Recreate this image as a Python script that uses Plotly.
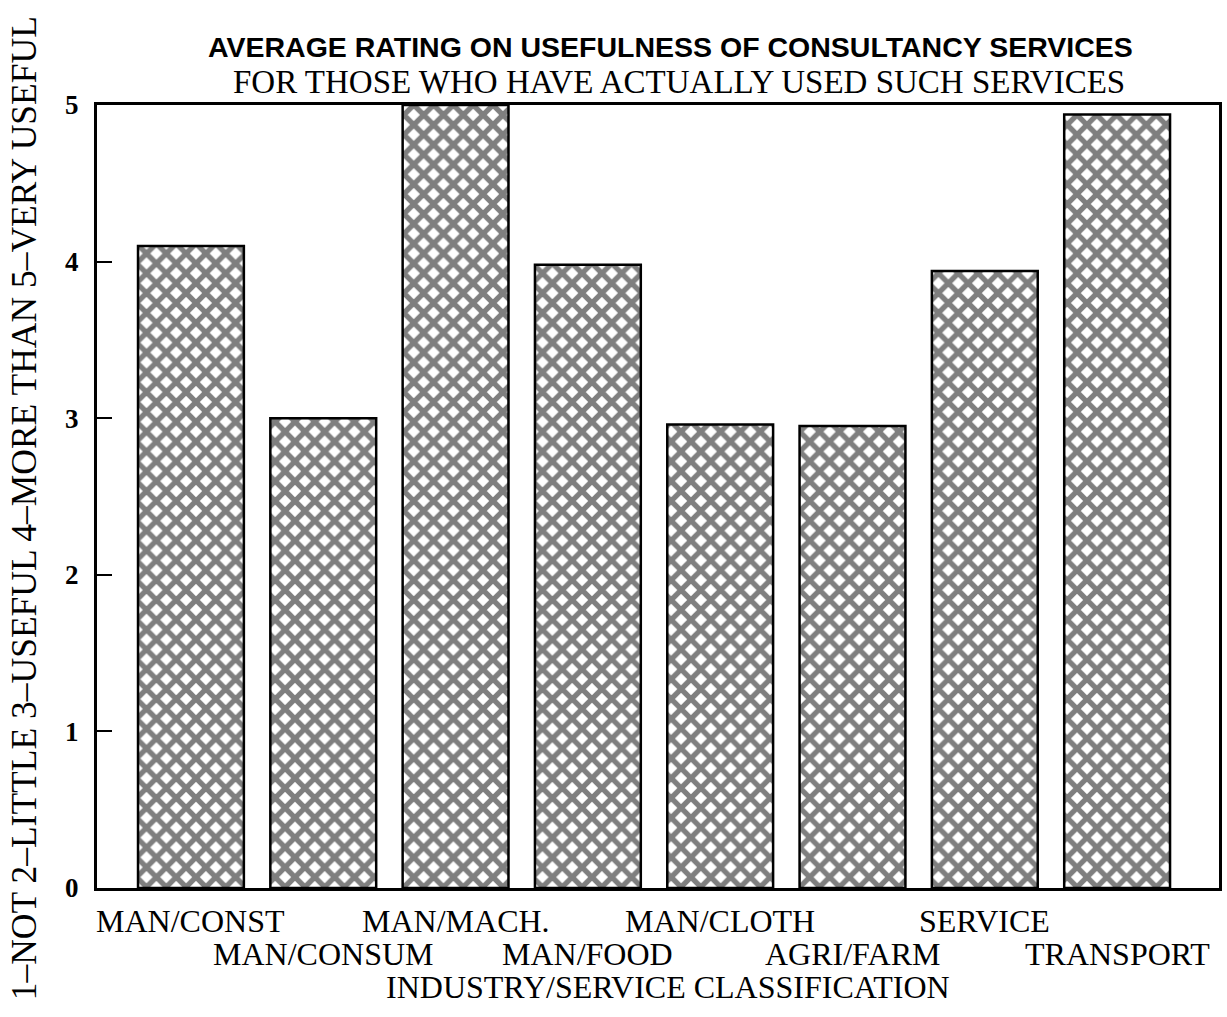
import plotly.graph_objects as go

categories = ["MAN/CONST", "MAN/CONSUM", "MAN/MACH.", "MAN/FOOD",
              "MAN/CLOTH", "AGRI/FARM", "SERVICE", "TRANSPORT"]
ratings = [4.1, 3.0, 5.0, 3.98, 2.96, 2.95, 3.94, 4.94]
y_ticks = [0, 1, 2, 3, 4, 5]

title_line1 = "AVERAGE RATING ON USEFULNESS OF CONSULTANCY SERVICES"
title_line2 = "FOR THOSE WHO HAVE ACTUALLY USED SUCH SERVICES"
x_title = "INDUSTRY/SERVICE CLASSIFICATION"
y_title = "1\u2013NOT 2\u2013LITTLE 3\u2013USEFUL 4\u2013MORE THAN 5\u2013VERY USEFUL"

SERIF = "Liberation Serif, Times New Roman, serif"
SANS = "Liberation Sans, Arial, sans-serif"

idx = list(range(len(categories)))

fig = go.Figure()
fig.add_trace(go.Bar(
    x=idx, y=ratings,
    marker=dict(
        color="white",
        line=dict(color="black", width=2.5),
        pattern=dict(shape="x", fgcolor="black", bgcolor="white",
                     size=14, solidity=0.62, fillmode="overlay"),
    ),
    width=0.8,
    showlegend=False,
    hoverinfo="x+y",
))

annotations = []
for i, c in enumerate(categories):
    annotations.append(dict(
        x=i, xref="x", y=-0.042 if i % 2 == 0 else -0.084, yref="paper",
        text=c, showarrow=False, xanchor="center", yanchor="middle",
        font=dict(family=SERIF, size=32, color="black"),
    ))
annotations.append(dict(
    x=0.509, xref="paper", y=-0.126, yref="paper", text=x_title,
    showarrow=False, xanchor="center", yanchor="middle",
    font=dict(family=SERIF, size=32, color="black"),
))
annotations.append(dict(
    x=0.511, xref="paper", y=1.074, yref="paper", text="<b>" + title_line1 + "</b>",
    showarrow=False, xanchor="center", yanchor="middle",
    font=dict(family=SANS, size=28.5, color="black"),
))
annotations.append(dict(
    x=0.519, xref="paper", y=1.029, yref="paper", text=title_line2,
    showarrow=False, xanchor="center", yanchor="middle",
    font=dict(family=SERIF, size=33, color="black"),
))
annotations.append(dict(
    x=-0.065, xref="paper", y=0.485, yref="paper", text=y_title,
    showarrow=False, xanchor="center", yanchor="middle", textangle=-90,
    font=dict(family=SERIF, size=35.5, color="black"),
))

fig.update_layout(
    width=1227, height=1017,
    margin=dict(l=97, r=5, t=105, b=129),
    paper_bgcolor="white", plot_bgcolor="white",
    bargap=0.2,
    annotations=annotations,
    xaxis=dict(range=[-0.71, 7.77], showticklabels=False, ticks="",
               showgrid=False, zeroline=False, showline=True, mirror=True,
               linecolor="black", linewidth=3),
    yaxis=dict(range=[0, 5], tickvals=y_ticks, ticks="inside", ticklen=15,
               tickwidth=2, tickcolor="black", showgrid=False, zeroline=False,
               showline=True, mirror=True, linecolor="black", linewidth=3,
               tickfont=dict(family=SERIF, size=27, color="black", weight="bold"),
               ticklabelstandoff=10),
)

fig.write_html("out.html")
